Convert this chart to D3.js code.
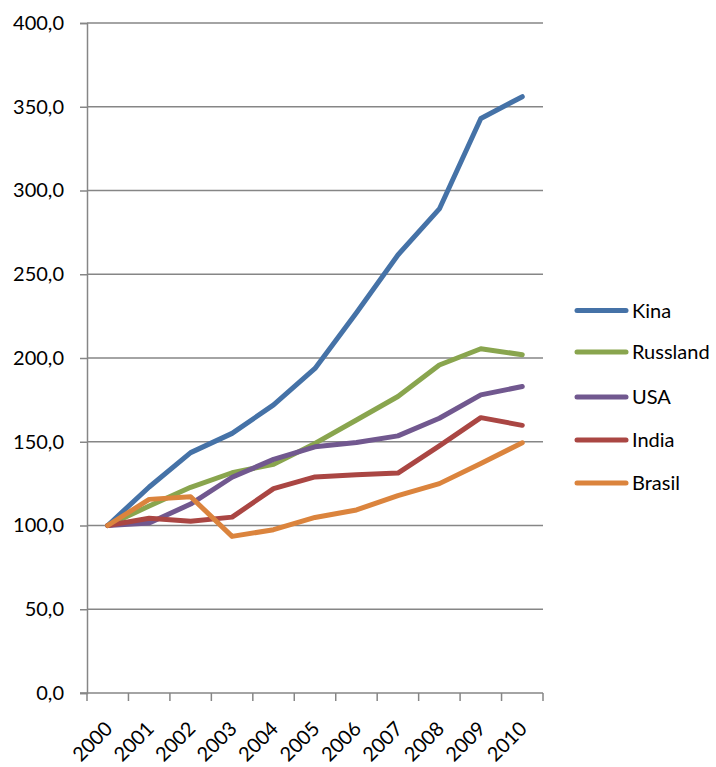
<!DOCTYPE html>
<html>
<head>
<meta charset="utf-8">
<script src="https://cdn.jsdelivr.net/npm/d3@7"></script>
<style>
  html, body { margin: 0; padding: 0; background: #fff; }
  svg { display: block; }
  text { font-family: Lato, "Open Sans", sans-serif; fill: #000; }
</style>
</head>
<body>
<svg id="chart" width="716" height="767"></svg>
<script>
// Index (2000 = 100)
const years = ["2000","2001","2002","2003","2004","2005","2006","2007","2008","2009","2010"];
const kina     = [100, 123, 143.5, 155, 172, 193.8, 227, 261.5, 289, 343, 356];
const russland = [100, 111.6, 122.8, 131.5, 136.5, 149, 163, 177, 195.8, 205.5, 202];
const usa      = [100, 101.5, 112.8, 128.8, 139.5, 147, 149.5, 153.5, 164, 178, 183];
const india    = [100, 104.3, 102.5, 105, 122, 129, 130.3, 131.3, 147.5, 164.4, 159.8];
const brasil   = [100, 115.6, 117.2, 93.5, 97.5, 104.8, 109.3, 117.8, 125, 137, 149.4];
const seriesNames = ["Kina", "Russland", "USA", "India", "Brasil"];
const seriesColors = ["#4572A7", "#89A54E", "#71588F", "#AA4643", "#DB843D"];
const yTicks = [0, 50, 100, 150, 200, 250, 300, 350, 400];

const series = [kina, russland, usa, india, brasil].map((values, i) => ({
  name: seriesNames[i], color: seriesColors[i], values
}));

const svg = d3.select("#chart");
const plotLeft = 87, plotRight = 543, plotTop = 23, plotBottom = 693;
const gridColor = "#868686";

const x = d3.scaleBand().domain(years).range([plotLeft, plotRight]).padding(0);
const y = d3.scaleLinear().domain([0, 400]).range([plotBottom, plotTop]);
const fmt = v => d3.format(".1f")(v).replace(".", ",");

// horizontal gridlines
svg.append("g").selectAll("line").data(yTicks.filter(t => t > 0)).join("line")
  .attr("x1", plotLeft).attr("x2", plotRight)
  .attr("y1", d => y(d)).attr("y2", d => y(d))
  .attr("stroke", gridColor).attr("stroke-width", 1.5);

// y axis
const yAxis = svg.append("g").attr("transform", `translate(${plotLeft},0)`)
  .call(d3.axisLeft(y).tickValues(yTicks).tickSize(7).tickPadding(16).tickFormat(fmt));
yAxis.select(".domain").attr("stroke", gridColor).attr("stroke-width", 1.5);
yAxis.selectAll(".tick line").attr("stroke", gridColor).attr("stroke-width", 1.5);
yAxis.selectAll("text").style("font-size", "20px").attr("fill", "#000");

// x axis with ticks between categories
const xg = svg.append("g");
xg.append("line").attr("x1", plotLeft - 7).attr("x2", plotRight)
  .attr("y1", plotBottom).attr("y2", plotBottom)
  .attr("stroke", gridColor).attr("stroke-width", 1.5);
const bounds = years.map(d => x(d)).concat([x(years[years.length - 1]) + x.bandwidth()]);
xg.selectAll("line.tk").data(bounds).join("line").attr("class", "tk")
  .attr("x1", d => d).attr("x2", d => d)
  .attr("y1", plotBottom).attr("y2", plotBottom + 8)
  .attr("stroke", gridColor).attr("stroke-width", 1.5);
xg.selectAll("text").data(years).join("text")
  .attr("transform", d => `translate(${x(d) + x.bandwidth() / 2 + 6},${plotBottom + 37}) rotate(-45)`)
  .attr("text-anchor", "end")
  .style("font-size", "20px")
  .text(d => d);

// lines
const line = d3.line()
  .x((d, i) => x(years[i]) + x.bandwidth() / 2)
  .y(d => y(d));
svg.append("g").selectAll("path").data(series).join("path")
  .attr("d", d => line(d.values))
  .attr("fill", "none")
  .attr("stroke", d => d.color)
  .attr("stroke-width", 5)
  .attr("stroke-linejoin", "round")
  .attr("stroke-linecap", "round");

// legend
const legendY = [310.5, 352, 397, 440, 483];
const lg = svg.append("g").selectAll("g").data(series).join("g")
  .attr("transform", (d, i) => `translate(577,${legendY[i]})`);
lg.append("line").attr("x1", 0).attr("x2", 49).attr("y1", 0).attr("y2", 0)
  .attr("stroke", d => d.color).attr("stroke-width", 5).attr("stroke-linecap", "round");
lg.append("text").attr("x", 55).attr("y", 0).attr("dy", "0.35em")
  .style("font-size", "20px").text(d => d.name);
</script>
</body>
</html>
